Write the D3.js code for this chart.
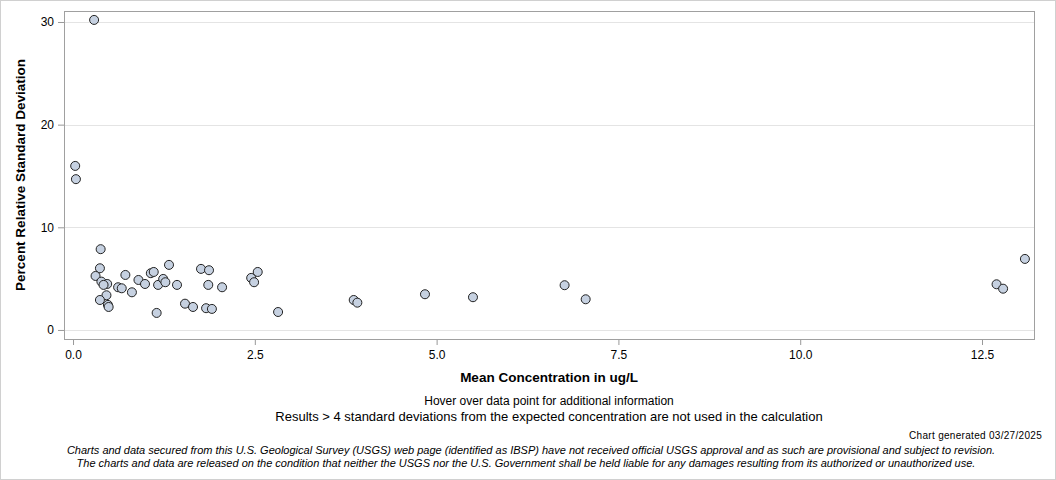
<!DOCTYPE html>
<html>
<head>
<meta charset="utf-8">
<script src="https://cdn.jsdelivr.net/npm/d3@7"></script>
<style>
  body { margin: 0; background: #fff; }
  svg text { font-family: "Liberation Sans", Arial, sans-serif; fill: #000; }
</style>
</head>
<body>
<div id="chart"></div>
<script>
// mean concentration (ug/L) and percent RSD
const meanConc = [
  0.29, 0.03, 0.04,
  0.38, 0.37, 0.31, 0.39, 0.47, 0.42, 0.46, 0.37, 0.48, 0.49,
  0.72, 0.62, 0.67, 0.81, 0.90, 0.99, 1.07, 1.11, 1.17, 1.24, 1.27, 1.32,
  1.15, 1.43, 1.54, 1.65, 1.76, 1.87, 1.86, 1.83, 1.91, 2.05,
  2.45, 2.54, 2.49, 2.82,
  3.86, 3.91, 4.84, 5.50, 6.76, 7.05,
  12.70, 12.79, 13.09
];
const pctRsd = [
  30.2, 15.98, 14.69,
  7.87, 6.01, 5.26, 4.71, 4.48, 4.39, 3.38, 2.92, 2.44, 2.24,
  5.36, 4.16, 4.06, 3.67, 4.87, 4.48, 5.53, 5.65, 4.39, 4.97, 4.65, 6.34,
  1.66, 4.39, 2.56, 2.24, 5.95, 5.82, 4.39, 2.12, 2.05, 4.16,
  5.07, 5.65, 4.65, 1.75,
  2.92, 2.66, 3.48, 3.19, 4.36, 2.99,
  4.45, 4.02, 6.92
];
const xTicks = [0, 2.5, 5, 7.5, 10, 12.5];
const yTicks = [0, 10, 20, 30];

const width = 1056, height = 480;
const plot = { left: 64, right: 1034, top: 11, bottom: 339 };

const svg = d3.select("#chart").append("svg")
    .attr("width", width)
    .attr("height", height);

// outer frame of the image
svg.append("rect")
    .attr("x", 0.5).attr("y", 0.5)
    .attr("width", width - 1).attr("height", height - 1)
    .attr("fill", "none").attr("stroke", "#d0d0d0");

const x = d3.scaleLinear().domain([-0.124, 13.215]).range([plot.left, plot.right]);
const y = d3.scaleLinear().domain([-0.88, 31.07]).range([plot.bottom, plot.top]);

// gridlines
svg.append("g").selectAll("line")
    .data(yTicks)
    .enter().append("line")
    .attr("x1", plot.left).attr("x2", plot.right)
    .attr("y1", d => Math.round(y(d)) + 0.5).attr("y2", d => Math.round(y(d)) + 0.5)
    .attr("stroke", "#e4e4e4");

// axes
const yAxis = svg.append("g")
    .attr("transform", `translate(${plot.left},0)`)
    .call(d3.axisLeft(y).tickValues(yTicks).tickSize(6).tickPadding(4).tickSizeOuter(0));
const xAxis = svg.append("g")
    .attr("transform", `translate(0,${plot.bottom})`)
    .call(d3.axisBottom(x).tickValues(xTicks).tickFormat(d3.format(".1f")).tickSize(6).tickPadding(5).tickSizeOuter(0));

[yAxis, xAxis].forEach(g => {
    g.select(".domain").remove();
    g.selectAll(".tick line").attr("stroke", "#999");
    g.selectAll(".tick text")
        .style("font-size", "12px")
        .style("font-family", "'Liberation Sans', Arial, sans-serif")
        .attr("fill", "#333");
});

// plot border
svg.append("rect")
    .attr("x", plot.left + 0.5).attr("y", plot.top + 0.5)
    .attr("width", plot.right - plot.left).attr("height", plot.bottom - plot.top)
    .attr("fill", "none").attr("stroke", "#a0a0a0");

// points
svg.append("g").selectAll("circle")
    .data(meanConc.map((m, i) => [m, pctRsd[i]]))
    .enter().append("circle")
    .attr("cx", d => x(d[0]))
    .attr("cy", d => y(d[1]))
    .attr("r", 4.5)
    .attr("fill", "#c6d1e1")
    .attr("stroke", "#222")
    .attr("stroke-width", 1);

// axis titles
svg.append("text")
    .attr("x", 549).attr("y", 382)
    .attr("text-anchor", "middle")
    .style("font-size", "13.5px").style("font-weight", "bold")
    .text("Mean Concentration in ug/L");

svg.append("text")
    .attr("transform", "translate(25,175) rotate(-90)")
    .attr("text-anchor", "middle")
    .style("font-size", "13.5px").style("font-weight", "bold")
    .text("Percent Relative Standard Deviation");

// footnotes
svg.append("text")
    .attr("x", 549).attr("y", 405)
    .attr("text-anchor", "middle")
    .style("font-size", "12px")
    .text("Hover over data point for additional information");

svg.append("text")
    .attr("x", 549).attr("y", 421)
    .attr("text-anchor", "middle")
    .style("font-size", "13px")
    .text("Results > 4 standard deviations from the expected concentration are not used in the calculation");

svg.append("text")
    .attr("x", 1042).attr("y", 439)
    .attr("text-anchor", "end")
    .style("font-size", "10px").style("letter-spacing", "0.3px")
    .text("Chart generated 03/27/2025");

svg.append("text")
    .attr("x", 531).attr("y", 454)
    .attr("text-anchor", "middle")
    .style("font-size", "11px").style("font-style", "italic")
    .text("Charts and data secured from this U.S. Geological Survey (USGS) web page (identified as IBSP) have not received official USGS approval and as such are provisional and subject to revision.");

svg.append("text")
    .attr("x", 526).attr("y", 467)
    .attr("text-anchor", "middle")
    .style("font-size", "11px").style("font-style", "italic")
    .text("The charts and data are released on the condition that neither the USGS nor the U.S. Government shall be held liable for any damages resulting from its authorized or unauthorized use.");
</script>
</body>
</html>
